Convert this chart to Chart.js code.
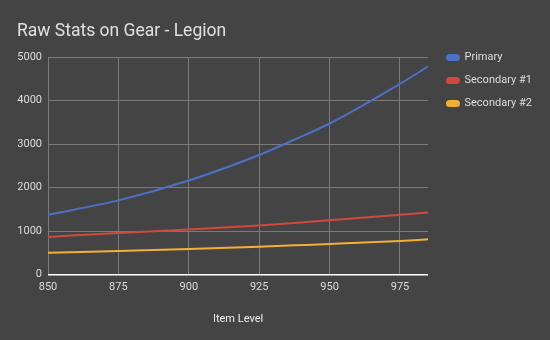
<!DOCTYPE html>
<html>
<head>
<meta charset="utf-8">
<script src="https://cdn.jsdelivr.net/npm/chart.js@4.4.1/dist/chart.umd.min.js"></script>
<style>
html,body{margin:0;padding:0;background:#444444;}
#wrap{width:550px;height:340px;position:relative;}
</style>
</head>
<body>
<div id="wrap"><canvas id="c" width="550" height="340"></canvas></div>
<script>
const itemLevels = [850, 875, 900, 925, 937.5, 950, 975, 985];
const primary    = [1375, 1706, 2162, 2748, 3100, 3472, 4384, 4785];
const secondary1 = [866, 958, 1035, 1127, 1188, 1250, 1375, 1428];
const secondary2 = [502, 541, 588, 641, 672, 703, 773, 810];
const xTicks = [850, 875, 900, 925, 950, 975];
const yTicks = [0, 1000, 2000, 3000, 4000, 5000];
const seriesNames = ['Primary', 'Secondary #1', 'Secondary #2'];
const seriesColors = ['#4d70c2', '#cf4a3b', '#f2b134'];

const toPts = arr => arr.map((v, i) => ({x: itemLevels[i], y: v}));
const allSeries = [primary, secondary1, secondary2];

Chart.defaults.font.family = 'Roboto, "Noto Sans", sans-serif';
Chart.defaults.color = '#dddddd';

const legendMover = {
  id: 'legendMover',
  afterLayout(chart) {
    const lg = chart.legend;
    if (!lg) return;
    const w = lg.width, h = lg.height;
    lg.left = 435; lg.right = 435 + w;
    lg.top = 40; lg.bottom = 40 + h;
  }
};

new Chart(document.getElementById('c'), {
  type: 'line',
  data: {
    datasets: allSeries.map((s, i) => ({
      label: seriesNames[i],
      data: toPts(s),
      borderColor: seriesColors[i],
      backgroundColor: seriesColors[i],
      borderWidth: 2,
      pointRadius: 0,
      cubicInterpolationMode: 'monotone',
      fill: false
    }))
  },
  plugins: [legendMover],
  options: {
    responsive: false,
    animation: false,
    layout: {padding: {left: 17, right: 15, top: 21, bottom: 14}},
    plugins: {
      title: {
        display: true,
        text: 'Raw Stats on Gear - Legion',
        align: 'start',
        color: '#e0e0e0',
        font: {size: 17.5, weight: 'normal'},
        padding: {top: 0, bottom: 15}
      },
      legend: {
        position: 'right',
        align: 'start',
        labels: {
          color: '#dddddd',
          font: {size: 11},
          boxWidth: 12,
          boxHeight: 5,
          padding: 12,
          useBorderRadius: true,
          borderRadius: 2.5
        }
      },
      tooltip: {enabled: false}
    },
    scales: {
      x: {
        type: 'linear',
        min: 850,
        max: 985,
        afterBuildTicks: axis => { axis.ticks = xTicks.map(v => ({value: v})); },
        ticks: {color: '#dddddd', font: {size: 11}, padding: 6, maxRotation: 0,
                callback: v => String(v)},
        grid: {color: '#7a7a7a', lineWidth: 1, drawTicks: false},
        border: {display: false},
        title: {display: true, text: 'Item Level', color: '#eeeeee', font: {size: 11}, padding: {top: 13, bottom: 0}}
      },
      y: {
        min: 0,
        max: 5000,
        afterBuildTicks: axis => { axis.ticks = yTicks.map(v => ({value: v})); },
        afterFit: axis => { axis.width = 31; },
        ticks: {color: '#dddddd', font: {size: 11}, padding: 6, callback: v => String(v)},
        grid: {
          color: ctx => ctx.tick && ctx.tick.value === 0 ? '#ffffff' : '#7a7a7a',
          lineWidth: ctx => ctx.tick && ctx.tick.value === 0 ? 1.5 : 1,
          drawTicks: false
        },
        border: {display: false}
      }
    }
  }
});
</script>
</body>
</html>
